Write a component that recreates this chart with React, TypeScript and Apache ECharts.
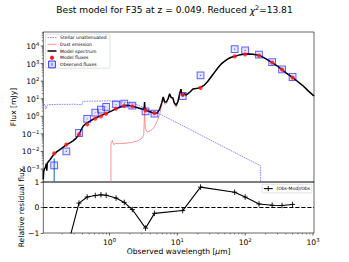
import React, { useEffect, useRef } from 'react';
import * as echarts from 'echarts';

const FONT = 'DejaVu Sans';

// Photometric bands (observed wavelength, micron)
const bandWave = [0.153, 0.231, 0.355, 0.469, 0.617, 0.748, 0.893, 1.25, 1.65, 2.17, 3.4, 4.6, 12, 22, 70, 100, 160, 250, 350, 500];
const obsFlux = [0.0016, 0.0102, 0.112, 0.71, 1.6, 2.4, 3.4, 4.8, 5.3, 4.1, 1.9, 1.42, 14.3, 215, 6760, 5700, 3240, 1230, 470, 173];
const obsErr = [0.0023, 0.0008, 0.006, 0.03, 0.06, 0.09, 0.13, 0.2, 0.25, 0.25, 0.12, 0.1, 1.2, 15, 500, 400, 250, 100, 40, 15];
const modelFlux = [0.0078, 0.0248, 0.091, 0.35, 0.74, 1.0, 1.42, 2.75, 3.9, 3.7, 2.2, 1.54, 17, 42, 2600, 3390, 2840, 1140, 455, 160];
const residual = [-3.7, -1.7, 0.17, 0.41, 0.47, 0.5, 0.48, 0.37, 0.2, -0.08, -0.81, -0.23, -0.12, 0.8, 0.6, 0.41, 0.14, 0.09, 0.08, 0.12];

// Model spectrum
const specWave = [0.1057, 0.107, 0.11, 0.114, 0.117, 0.119, 0.121, 0.13, 0.14, 0.153, 0.17, 0.19, 0.21, 0.231, 0.26, 0.29, 0.32, 0.345, 0.37, 0.39, 0.41, 0.44, 0.5, 0.6, 0.75, 0.9, 1.1, 1.3, 1.5, 1.7, 1.9, 2.2, 2.6, 3.0, 3.2, 3.26, 3.29, 3.32, 3.4, 3.7, 4.2, 4.7, 5.1, 5.5, 5.9, 6.2, 6.5, 6.9, 7.3, 7.7, 8.1, 8.6, 9.0, 9.6, 10.2, 10.8, 11.3, 11.7, 12.2, 12.7, 13.3, 14.2, 15.5, 17, 18.5, 20, 22, 25, 28, 32, 36, 40, 45, 50, 55, 60, 66, 72, 80, 90, 100, 115, 130, 150, 166, 200, 250, 300, 350, 400, 500, 600, 700, 850, 1000, 1040];
const specFlux = [0.00025, 0.0007, 0.001, 0.0013, 0.002, 0.0008, 0.0022, 0.003, 0.0045, 0.0073, 0.01, 0.0135, 0.018, 0.024, 0.031, 0.04, 0.055, 0.08, 0.13, 0.2, 0.28, 0.36, 0.5, 0.75, 1.1, 1.5, 2.1, 2.9, 3.6, 4.1, 4.2, 3.7, 3.1, 2.6, 2.4, 3.5, 6.5, 3.0, 2.3, 2.0, 1.65, 1.45, 1.6, 2.6, 6, 12.5, 6.5, 6.5, 10, 19, 12, 11, 6, 4.2, 7, 18, 35, 16, 15, 21, 16, 19, 25, 36, 38, 40, 44, 60, 95, 190, 350, 600, 1000, 1400, 1800, 2150, 2450, 2650, 3050, 3350, 3450, 3500, 3400, 3100, 2850, 1900, 1130, 720, 460, 300, 165, 93, 58, 28, 16, 14.5];

// Stellar unattenuated
const stellarWave = [0.1057, 0.112, 0.114, 0.117, 0.12, 0.125, 0.15, 0.2, 0.25, 0.3, 0.36, 0.39, 0.405, 0.45, 0.55, 0.7, 0.9, 1.1, 1.4, 1.7, 2.2, 2.7, 3.3, 4.0, 5.0, 7.0, 10, 15, 20, 30, 50, 80, 120, 169, 169.01];
const stellarFlux = [4.6, 4.7, 3.0, 2.6, 4.2, 4.6, 4.7, 4.8, 4.8, 4.9, 4.7, 4.5, 7.0, 7.2, 7.3, 7.4, 7.6, 7.3, 6.8, 6.3, 5.5, 4.2, 3.0, 2.2, 1.6, 0.85, 0.42, 0.19, 0.105, 0.047, 0.017, 0.0066, 0.003, 0.00155, 0.000001];

// Dust emission
const dustWave = [1.05, 1.051, 1.08, 1.1, 1.13, 1.17, 1.22, 1.3, 1.5, 1.8, 2.2, 2.6, 3.0, 3.2, 3.26, 3.29, 3.32, 3.38, 3.6, 4.0, 4.5, 5.0, 5.5, 5.9, 6.2, 6.5, 6.9, 7.3, 7.7, 8.1, 8.6, 9.0, 9.6, 10.2, 10.8, 11.3, 11.7, 12.2, 12.7, 13.3, 14.2, 15.5, 17, 18.5, 20, 22, 25, 28, 32, 36, 40, 45, 50, 55, 60, 66, 72, 80, 90, 100, 115, 130, 150, 166, 200, 250, 300, 350, 400, 500, 600, 700, 850, 1000, 1040];
const dustFlux = [0.000001, 0.028, 0.035, 0.042, 0.03, 0.024, 0.03, 0.028, 0.028, 0.03, 0.033, 0.04, 0.055, 0.09, 0.8, 4.0, 0.8, 0.2, 0.13, 0.15, 0.22, 0.5, 1.3, 4.5, 11, 5, 5.3, 9, 18, 11, 10, 5, 3.3, 6.2, 17, 34, 15, 14, 20, 15, 18.5, 24.5, 35.5, 37.5, 39.5, 43.5, 59.5, 94.5, 189, 349, 599, 999, 1399, 1799, 2149, 2449, 2649, 3049, 3349, 3449, 3499, 3399, 3099, 2849, 1899, 1129, 719, 459, 299, 164, 92.5, 57.7, 27.8, 15.9, 14.4];

// Axis ticks
const xMajorTicks = [1, 10, 100, 1000];
const yMajorTicks = [1e-3, 1e-2, 1e-1, 1, 10, 100, 1e3, 1e4];
const residualTicks = [-1, 0, 1];

const X_MIN = 0.1057;
const X_MAX = 1035;
const Y_MIN = 1.82e-4;
const Y_MAX = 6.31e4;

const GL = 43.3;
const GW = 270.7;

const zip = (a: number[], b: number[]) => a.map((v, i) => [v, b[i]]);

function powLabel(v: number) {
  const l = Math.log10(v);
  const e = Math.round(l);
  if (Math.abs(l - e) > 1e-6) return '';
  return `{b|10}{s|${e < 0 ? '\u2212' + -e : e}}`;
}

const labelRich = {
  b: { fontSize: 7.6, fontFamily: FONT, color: '#000', lineHeight: 9, verticalAlign: 'bottom' },
  s: { fontSize: 5.3, fontFamily: FONT, color: '#000', lineHeight: 3, verticalAlign: 'top' },
};

function buildOption() {
  const xMinor: number[] = [];
  for (let e = -1; e <= 3; e++) for (let k = 2; k <= 9; k++) {
    const v = k * Math.pow(10, e);
    if (v > X_MIN && v < X_MAX) xMinor.push(v);
  }
  const yMinor: number[] = [];
  for (let e = -4; e <= 4; e++) for (let k = 2; k <= 9; k++) {
    const v = k * Math.pow(10, e);
    if (v > Y_MIN && v < Y_MAX) yMinor.push(v);
  }
  const xTickData = [
    ...xMajorTicks.map((v) => [v, -1, 2.65, 0, 0.6]),
    ...xMinor.map((v) => [v, -1, 1.5, 0, 0.45]),
  ];
  const yTickData = [
    ...yMajorTicks.map((v) => [X_MIN, v, 2.65, 1, 0.6]),
    ...yMinor.map((v) => [X_MIN, v, 1.5, 1, 0.45]),
  ];

  const tickRender = (params: any, api: any) => {
    const p = api.coord([api.value(0), api.value(1)]);
    const len = api.value(2);
    const o = api.value(3);
    const w = api.value(4);
    const shape = o === 0
      ? { x1: p[0], y1: p[1], x2: p[0], y2: p[1] + len }
      : { x1: p[0] - len, y1: p[1], x2: p[0], y2: p[1] };
    return { type: 'line', shape, style: { stroke: '#000', lineWidth: w } };
  };

  const errRender = (params: any, api: any) => {
    const w = api.value(0), f = api.value(1), e = api.value(2);
    const cs = params.coordSys;
    const top = api.coord([w, f + e]);
    const bottomY = f - e > 0 ? api.coord([w, f - e])[1] : cs.y + cs.height;
    return {
      type: 'line',
      shape: { x1: top[0], y1: Math.max(top[1], cs.y), x2: top[0], y2: Math.min(bottomY, cs.y + cs.height) },
      style: { stroke: '#1f77b4', lineWidth: 1.1 },
    };
  };

  const txt = (text: string, x: number, y: number, size: number, extra: any = {}) => ({
    type: 'text', x, y, z: 110, silent: true,
    style: { text, fontSize: size, fontFamily: FONT, fill: '#000', align: 'left', verticalAlign: 'middle', ...extra },
  });
  const ln = (x1: number, y1: number, x2: number, y2: number, style: any) => ({
    type: 'line', z: 110, silent: true, shape: { x1, y1, x2, y2 }, style,
  });

  const rows = [37.6, 44.3, 51.0, 57.7, 64.4];
  const hx1 = 47.5, hx2 = 56.5, hc = 52, tx = 60.1;

  const graphics: any[] = [
    {
      type: 'text', x: 174.5, y: 10.2, z: 110, silent: true,
      style: {
        text: 'Best model for F35 at z = 0.049. Reduced {i|\u03c7}{s|2}=13.81',
        fontSize: 9.08, fontFamily: FONT, fill: '#000', align: 'center', verticalAlign: 'middle', lineHeight: 11,
        rich: {
          i: { fontSize: 9.08, fontFamily: FONT, fill: '#000', fontStyle: 'italic', lineHeight: 11, verticalAlign: 'bottom' },
          s: { fontSize: 6.4, fontFamily: FONT, fill: '#000', lineHeight: 4, verticalAlign: 'top' },
        },
      },
    },
    {
      type: 'text', x: 13.5, y: 107, rotation: Math.PI / 2, z: 110, silent: true,
      style: { text: 'Flux [mJy]', fontSize: 7.6, fontFamily: FONT, fill: '#000', align: 'center', verticalAlign: 'middle' },
    },
    {
      type: 'text', x: 21, y: 207.5, rotation: Math.PI / 2, z: 110, silent: true,
      style: { text: 'Relative residual flux', fontSize: 7.6, fontFamily: FONT, fill: '#000', align: 'center', verticalAlign: 'middle' },
    },
    {
      type: 'text', x: 178.7, y: 251.5, z: 110, silent: true,
      style: {
        text: 'Observed wavelength [{i|\u03bc}m]', fontSize: 7.6, fontFamily: FONT, fill: '#000', align: 'center', verticalAlign: 'middle', lineHeight: 9,
        rich: { i: { fontSize: 7.6, fontFamily: FONT, fill: '#000', fontStyle: 'italic', lineHeight: 9 } },
      },
    },
    // main legend
    {
      type: 'rect', z: 105, silent: true,
      shape: { x: 45.5, y: 34.2, width: 64.5, height: 34, r: 1.5 },
      style: { fill: 'rgba(255,255,255,0.8)', stroke: '#cccccc', lineWidth: 0.6 },
    },
    ln(hx1, rows[0], hx2, rows[0], { stroke: '#3a3aff', lineWidth: 0.6, lineDash: [1.6, 0.9] }),
    ln(hx1, rows[1], hx2, rows[1], { stroke: '#ff7070', lineWidth: 0.75 }),
    ln(hx1, rows[2], hx2, rows[2], { stroke: '#000', lineWidth: 1.5 }),
    { type: 'circle', z: 110, silent: true, shape: { cx: hc, cy: rows[3], r: 2.1 }, style: { fill: '#ff1a1a' } },
    {
      type: 'rect', z: 110, silent: true,
      shape: { x: hc - 3.4, y: rows[4] - 3.4, width: 6.8, height: 6.8 },
      style: { fill: 'rgba(110,110,255,0.22)', stroke: 'rgba(0,0,255,0.75)', lineWidth: 1 },
    },
    ln(hc, rows[4] - 1.5, hc, rows[4] + 1.5, { stroke: '#1f77b4', lineWidth: 1 }),
    txt('Stellar unattenuated', tx, rows[0], 4.5),
    txt('Dust emission', tx, rows[1], 4.5),
    txt('Model spectrum', tx, rows[2], 4.5),
    txt('Model fluxes', tx, rows[3], 4.5),
    txt('Observed fluxes', tx, rows[4], 4.5),
    // residual legend
    {
      type: 'rect', z: 105, silent: true,
      shape: { x: 262, y: 184.3, width: 49.8, height: 8.6, r: 1.2 },
      style: { fill: 'rgba(255,255,255,0.8)', stroke: '#cccccc', lineWidth: 0.6 },
    },
    ln(263.8, 188.6, 272.8, 188.6, { stroke: '#000', lineWidth: 1.1 }),
    ln(268.3, 186, 268.3, 191.2, { stroke: '#000', lineWidth: 0.9 }),
    txt('(Obs-Mod)/Obs', 276.4, 188.6, 4.5),
  ];

  return {
    animation: false,
    grid: [
      { left: GL, top: 32, width: GW, height: 150, show: true, borderColor: '#000', borderWidth: 0.6, backgroundColor: 'transparent' },
      { left: GL, top: 182, width: GW, height: 51, show: true, borderColor: '#000', borderWidth: 0.6, backgroundColor: 'transparent' },
    ],
    xAxis: [
      {
        type: 'log', gridIndex: 0, min: X_MIN, max: X_MAX, logBase: 10,
        axisLine: { show: false }, axisTick: { show: false }, axisLabel: { show: false }, splitLine: { show: false },
      },
      {
        type: 'log', gridIndex: 1, min: X_MIN, max: X_MAX, logBase: 10,
        axisLine: { show: false }, axisTick: { show: false }, splitLine: { show: false },
        axisLabel: { formatter: powLabel, rich: labelRich, margin: 4.3, showMinLabel: true, showMaxLabel: true },
      },
    ],
    yAxis: [
      {
        type: 'log', gridIndex: 0, min: Y_MIN, max: Y_MAX, logBase: 10,
        axisLine: { show: false }, axisTick: { show: false }, splitLine: { show: false },
        axisLabel: { formatter: powLabel, rich: labelRich, margin: 4 },
      },
      {
        type: 'value', gridIndex: 1, min: -1, max: 1, interval: 1,
        axisLine: { show: false }, splitLine: { show: false },
        axisTick: { show: true, length: 2.65, lineStyle: { color: '#000', width: 0.6 } },
        axisLabel: {
          formatter: (v: number) => (residualTicks.includes(v) ? (v < 0 ? '\u2212' + -v : String(v)) : ''),
          fontSize: 7.6, fontFamily: FONT, color: '#000', margin: 4,
        },
      },
    ],
    graphic: graphics,
    series: [
      {
        type: 'line', xAxisIndex: 0, yAxisIndex: 0, data: zip(stellarWave, stellarFlux), showSymbol: false, symbol: 'none', silent: true, z: 2,
        lineStyle: { color: '#3a3aff', width: 0.6, type: [1.6, 0.9] },
      },
      {
        type: 'line', xAxisIndex: 0, yAxisIndex: 0, data: zip(dustWave, dustFlux), showSymbol: false, symbol: 'none', silent: true, z: 2,
        lineStyle: { color: '#ff7070', width: 0.75 },
      },
      {
        type: 'line', xAxisIndex: 0, yAxisIndex: 0, data: zip(specWave, specFlux), showSymbol: false, symbol: 'none', silent: true, z: 3,
        lineStyle: { color: '#000', width: 1.5 },
      },
      {
        type: 'custom', xAxisIndex: 0, yAxisIndex: 0, silent: true, z: 4, clip: false,
        data: bandWave.map((w, i) => [w, obsFlux[i], obsErr[i]]), renderItem: errRender,
      },
      {
        type: 'scatter', xAxisIndex: 0, yAxisIndex: 0, data: zip(bandWave, obsFlux), symbol: 'rect', symbolSize: 6.8, silent: true, z: 5,
        itemStyle: { color: 'rgba(110,110,255,0.22)', borderColor: 'rgba(0,0,255,0.75)', borderWidth: 1 },
      },
      {
        type: 'scatter', xAxisIndex: 0, yAxisIndex: 0, data: zip(bandWave, modelFlux), symbol: 'circle', symbolSize: 4.3, silent: true, z: 6,
        itemStyle: { color: '#ff1a1a' },
      },
      {
        type: 'line', xAxisIndex: 1, yAxisIndex: 1, data: zip(bandWave, residual), silent: true, z: 5, clip: true,
        symbol: 'path://M5,0L5,10M0,5L10,5', symbolSize: [5, 5.5], showSymbol: true,
        itemStyle: { color: '#000', borderColor: '#000', borderWidth: 0.9 },
        lineStyle: { color: '#000', width: 1.1 },
        markLine: {
          silent: true, symbol: ['none', 'none'], label: { show: false },
          lineStyle: { color: '#000', width: 1.1, type: [4.2, 1.8] },
          data: [{ yAxis: 0 }],
        },
      },
      {
        type: 'custom', xAxisIndex: 1, yAxisIndex: 1, silent: true, z: 10, clip: false,
        data: xTickData, renderItem: tickRender,
      },
      {
        type: 'custom', xAxisIndex: 0, yAxisIndex: 0, silent: true, z: 10, clip: false,
        data: yTickData, renderItem: tickRender,
      },
    ],
  };
}

export default function App() {
  const ref = useRef<HTMLDivElement>(null);
  useEffect(() => {
    if (!ref.current) return;
    const chart = echarts.init(ref.current, undefined, { renderer: 'svg' });
    chart.setOption(buildOption() as any);
    return () => chart.dispose();
  }, []);
  return <div ref={ref} style={{ position: 'absolute', left: 0, top: 0, width: 349, height: 262 }} />;
}
